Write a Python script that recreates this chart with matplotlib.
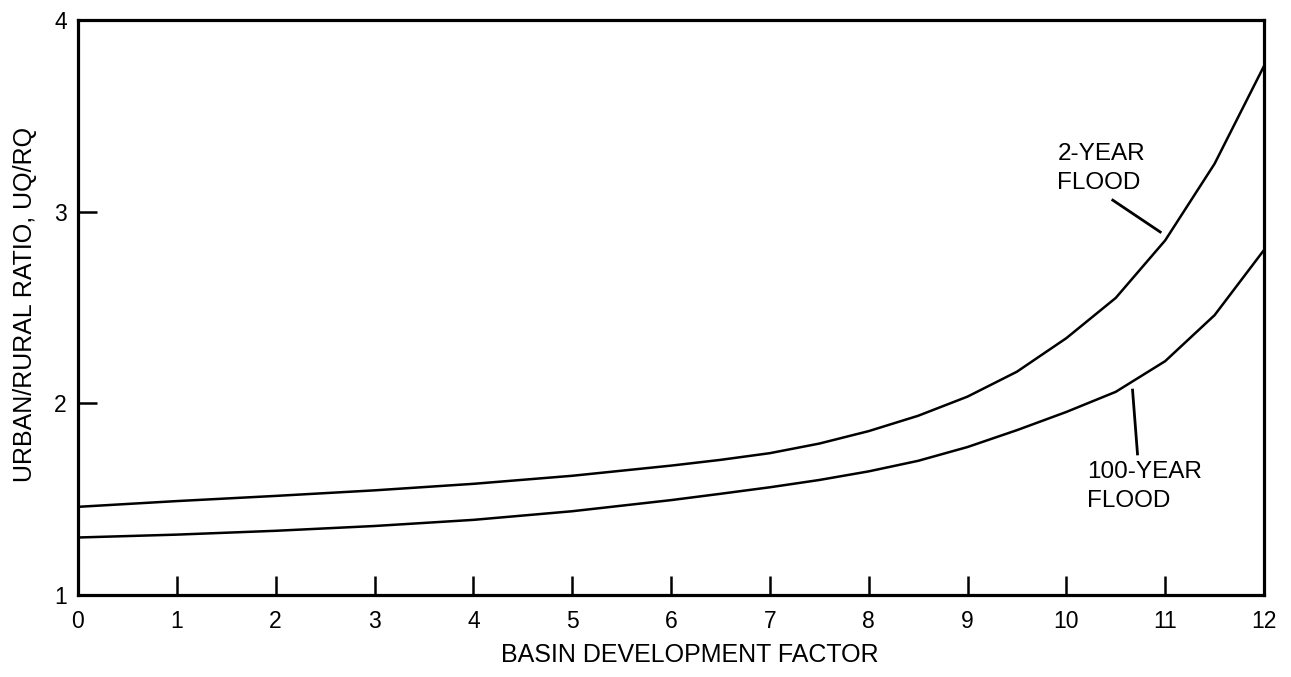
import matplotlib
matplotlib.use("Agg")
import matplotlib.pyplot as plt

plt.rcParams['font.family'] = ['Liberation Sans', 'DejaVu Sans']

# Data
bdf = [0, 1, 2, 3, 4, 5, 6, 6.5, 7, 7.5, 8, 8.5, 9, 9.5, 10, 10.5, 11, 11.5, 12]
flood_2yr = [1.46, 1.49, 1.517, 1.546, 1.58, 1.622, 1.675, 1.705, 1.74, 1.79,
             1.855, 1.935, 2.035, 2.165, 2.34, 2.55, 2.85, 3.25, 3.76]
flood_100yr = [1.30, 1.315, 1.335, 1.36, 1.392, 1.437, 1.495, 1.528, 1.562, 1.60,
               1.645, 1.70, 1.772, 1.86, 1.955, 2.06, 2.22, 2.46, 2.80]
x_ticks = list(range(0, 13))
y_ticks = [1, 2, 3, 4]

W, H = 1291, 677
fig = plt.figure(figsize=(W / 100, H / 100), dpi=100)
ax = fig.add_axes([78 / W, 1 - 595 / H, (1264 - 78) / W, (595 - 20) / H])

ax.plot(bdf, flood_2yr, color='black', lw=1.8, solid_joinstyle='round')
ax.plot(bdf, flood_100yr, color='black', lw=1.8, solid_joinstyle='round')

ax.set_xlim(0, 12)
ax.set_ylim(1, 4)
ax.set_xticks(x_ticks)
ax.set_yticks(y_ticks)
ax.tick_params(axis='both', direction='in', length=14, width=1.8, labelsize=16.5)
ax.tick_params(axis='x', pad=11)
ax.tick_params(axis='y', pad=8)
for s in ax.spines.values():
    s.set_linewidth(2.3)

# annotations
ax.text(9.91, 3.227, "2-YEAR\nFLOOD", fontsize=17.5, ha='left', va='center', linespacing=1.4)
ax.plot([10.47, 10.95], [3.06, 2.894], color='black', lw=2)
ax.text(10.21, 1.566, "100-YEAR\nFLOOD", fontsize=17.5, ha='left', va='center', linespacing=1.4)
ax.plot([10.67, 10.72], [2.069, 1.736], color='black', lw=2)

fig.text(690 / W, 1 - 655 / H, "BASIN DEVELOPMENT FACTOR", fontsize=18, ha='center', va='center')
fig.text(25 / W, 1 - 304 / H, "URBAN/RURAL RATIO, UQ/RQ", fontsize=18, ha='center', va='center', rotation=90)

fig.savefig("out.png", dpi=100)
